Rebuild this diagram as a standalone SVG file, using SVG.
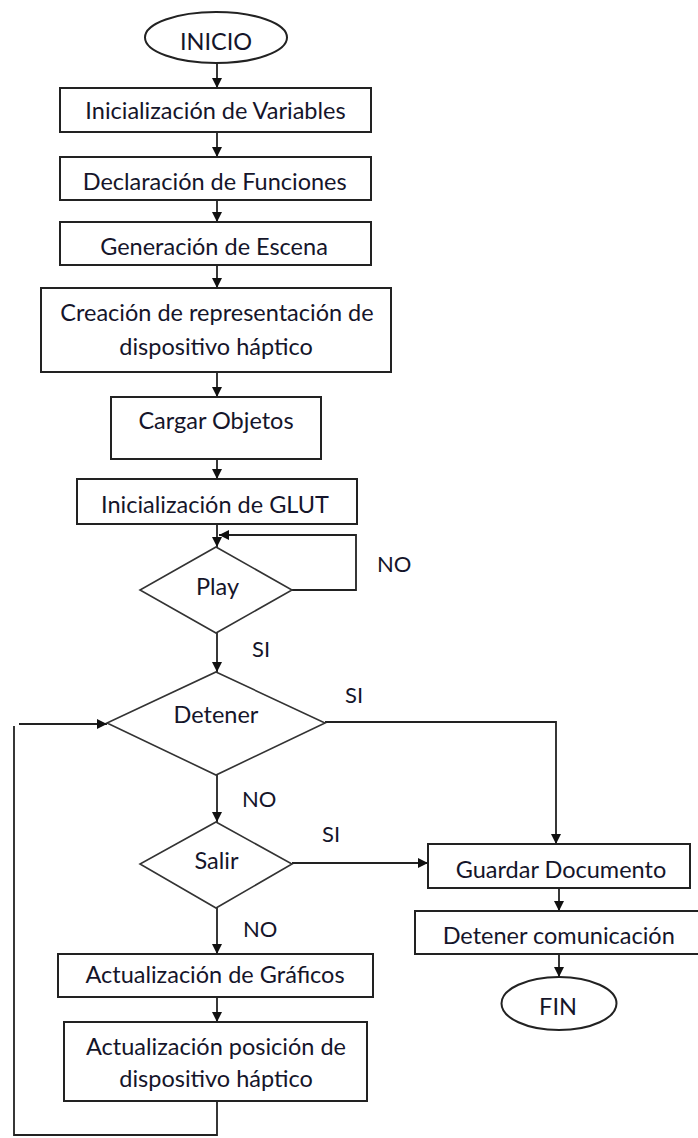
<svg xmlns="http://www.w3.org/2000/svg" width="698" height="1138" viewBox="0 0 698 1138">
<style>
.box{fill:#fff;stroke:#222;stroke-width:2}
.dia{fill:#fff;stroke:#333;stroke-width:1.6}
.t{font-family:Lato,"Open Sans",sans-serif;font-size:23.5px;fill:#15152a;text-anchor:middle}
.l{font-family:Lato,"Open Sans",sans-serif;font-size:22px;fill:#15152a}
.c{fill:none;stroke:#222;stroke-width:1.8}
</style>
<defs>
<marker id="ah" markerUnits="userSpaceOnUse" markerWidth="10" markerHeight="10" refX="10" refY="5" orient="auto">
<path d="M0,0 L10,5 L0,10 z" fill="#111"/>
</marker>
</defs>
<rect width="698" height="1138" fill="#fff"/>
<g id="connectors">
<path class="c" d="M217,63 V88" marker-end="url(#ah)"/>
<path class="c" d="M217,132 V157" marker-end="url(#ah)"/>
<path class="c" d="M217,200 V222" marker-end="url(#ah)"/>
<path class="c" d="M217,265 V288" marker-end="url(#ah)"/>
<path class="c" d="M217,372 V397" marker-end="url(#ah)"/>
<path class="c" d="M217,459 V479" marker-end="url(#ah)"/>
<path class="c" d="M217,524 V547" marker-end="url(#ah)"/>
<path class="c" d="M292,590 H356 V535 H219" marker-end="url(#ah)"/>
<path class="c" d="M217,633 V672" marker-end="url(#ah)"/>
<path class="c" d="M217,775 V822" marker-end="url(#ah)"/>
<path class="c" d="M217,908 V954" marker-end="url(#ah)"/>
<path class="c" d="M217,997 V1022" marker-end="url(#ah)"/>
<path class="c" d="M217,1101 V1135 H14 V726"/>
<path class="c" d="M19,724 H107" marker-end="url(#ah)"/>
<path class="c" d="M325,722 H556 V844" marker-end="url(#ah)"/>
<path class="c" d="M292,863 H428" marker-end="url(#ah)"/>
<path class="c" d="M559,888 V911" marker-end="url(#ah)"/>
<path class="c" d="M559,954 V977" marker-end="url(#ah)"/>
<text class="l" x="377" y="572">NO</text>
<text class="l" x="252" y="657">SI</text>
<text class="l" x="345" y="703">SI</text>
<text class="l" x="242" y="807">NO</text>
<text class="l" x="322" y="842">SI</text>
<text class="l" x="243" y="937">NO</text>
</g>
<g id="inicio">
<ellipse class="box" cx="216" cy="37.5" rx="71" ry="25.5" stroke-width="1.6"/>
<text class="t" x="216" y="50">INICIO</text>
</g>
<g id="init-vars">
<rect class="box" x="60" y="88" width="311" height="44"/>
<text class="t" x="215.5" y="119">Inicialización de Variables</text>
</g>
<g id="decl-func">
<rect class="box" x="60" y="157" width="311" height="43"/>
<text class="t" x="214.7" y="190">Declaración de Funciones</text>
</g>
<g id="gen-escena">
<rect class="box" x="60" y="222" width="311" height="43"/>
<text class="t" x="214" y="255">Generación de Escena</text>
</g>
<g id="creacion">
<rect class="box" x="41" y="288" width="350" height="84"/>
<text class="t" x="217" y="321">Creación de representación de</text>
<text class="t" x="216" y="355">dispositivo háptico</text>
</g>
<g id="cargar">
<rect class="box" x="111" y="397" width="210" height="62"/>
<text class="t" x="216" y="429">Cargar Objetos</text>
</g>
<g id="init-glut">
<rect class="box" x="77" y="479" width="280" height="45"/>
<text class="t" x="215" y="512.7">Inicialización de GLUT</text>
</g>
<g id="play">
<polygon class="dia" points="216,547 292,590 216,633 140,590"/>
<text class="t" x="217.5" y="595">Play</text>
</g>
<g id="detener">
<polygon class="dia" points="216,672 325,723 216,775 107,723"/>
<text class="t" x="216" y="723">Detener</text>
</g>
<g id="salir">
<polygon class="dia" points="216,822 292,864 216,908 140,864"/>
<text class="t" x="216.5" y="869">Salir</text>
</g>
<g id="act-graf">
<rect class="box" x="58" y="954" width="315" height="43"/>
<text class="t" x="215" y="983">Actualización de Gráficos</text>
</g>
<g id="act-pos">
<rect class="box" x="64" y="1022" width="303" height="79"/>
<text class="t" x="216" y="1055">Actualización posición de</text>
<text class="t" x="216" y="1087">dispositivo háptico</text>
</g>
<g id="guardar">
<rect class="box" x="428" y="844" width="262" height="44"/>
<text class="t" x="561" y="878">Guardar Documento</text>
</g>
<g id="detener-com">
<rect class="box" x="415" y="911" width="290" height="43"/>
<text class="t" x="558.7" y="944">Detener comunicación</text>
</g>
<g id="fin">
<ellipse class="box" cx="559" cy="1003.5" rx="57.5" ry="26.5" stroke-width="1.6"/>
<text class="t" x="558" y="1015">FIN</text>
</g>
</svg>
